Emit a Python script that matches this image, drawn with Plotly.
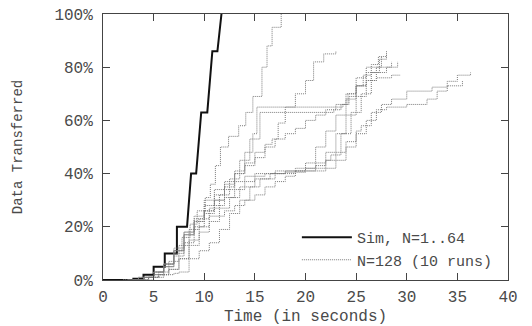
import plotly.graph_objects as go

# Simulation (black)
sim_t = [0.0, 1.0, 3.0, 3.0, 4.0, 4.0, 5.0, 5.0, 6.1, 6.1, 7.3, 7.3, 8.3, 8.7, 9.2, 9.7, 10.3, 10.8, 11.3, 11.7]
sim_v = [0.0, 0.0, 0.0, 0.5, 0.5, 2.0, 2.0, 5.0, 5.0, 10.0, 10.0, 20.0, 20.0, 40.0, 40.0, 63.0, 63.0, 86.0, 86.0, 100.0]

# N=128, ten measured runs (gray)
run1_t = [2.5, 4, 5, 6, 7, 7.8, 8.6, 9.3, 10.1, 10.6, 11.1, 11.6, 12.4, 13.4, 14.1, 14.8, 15.7, 16.2, 16.7, 17.6]
run1_v = [0, 1, 3, 6, 11, 16, 21, 26, 31, 36, 43, 50, 54, 58, 63, 69, 80, 88, 95, 100]
run2_t = [2, 3.5, 5, 6, 7, 8, 9, 10, 11, 12, 13, 14, 15, 16, 16.7, 17.3, 18, 19, 20, 20.8, 21.8, 23]
run2_v = [0, 1, 2, 5, 10, 17, 23, 28, 32, 36, 40, 44, 48, 51, 53, 59, 65, 70, 75, 82, 85, 86]
run3_t = [2.5, 4, 5, 6, 7, 8, 9, 10, 11, 12, 13, 14, 14.8, 15.2, 23.7, 24.3, 25, 25.7, 26.5, 27.2, 28]
run3_v = [0, 1, 3, 6, 12, 18, 22, 26, 30, 35, 41, 48, 55, 65, 66, 69, 73, 77, 81, 84, 86]
run4_t = [3, 4.5, 5.5, 6.5, 7.5, 8.5, 9.5, 10.5, 11.5, 12.5, 13.5, 14.5, 15.5, 22.8, 23.5, 24.2, 25, 26, 27, 28.5, 29.4]
run4_v = [0, 1, 3, 7, 13, 19, 23, 27, 32, 38, 45, 53, 63, 64, 66, 70, 73, 75, 76, 77, 77]
run5_t = [3, 4.5, 5.5, 6.5, 7.5, 8.5, 9.5, 10.5, 11.5, 12.5, 13.5, 15, 17, 19, 21, 22, 23, 24, 25, 25.5, 26.5, 27.5, 28.5, 30, 32.5, 34, 35, 36.3]
run5_v = [0, 1, 2, 4, 8, 13, 18, 22, 27, 31, 35, 38, 40, 41, 42, 45, 48, 52, 56, 58, 63, 66, 68, 71, 72.5, 74.7, 77, 78]
run6_t = [2.5, 4, 5, 6, 7, 8, 9, 10, 11, 12, 13, 14, 16, 18, 20, 22, 23, 24, 25, 26, 27, 28, 30, 32, 33, 34, 35.5]
run6_v = [0, 1, 3, 6, 11, 17, 22, 26, 30, 34, 37, 39, 40, 40.5, 41, 42, 45, 50, 55, 60, 64, 65, 66, 68, 71, 73, 75]
run7_t = [3, 5, 6, 7, 7.5, 8.5, 9.5, 10.5, 11.5, 12.5, 13.5, 14.5, 15.5, 16.5, 18, 20, 21, 22, 23, 24, 25, 26, 27, 28, 29.1]
run7_v = [0, 1, 2, 2.5, 3, 8, 11, 14, 19, 25, 30, 35, 38, 40, 41, 42, 44, 48, 55, 62, 69, 75, 78, 80, 82]
run8_t = [2.5, 4, 5, 6, 7, 8, 9, 10, 11, 12, 13, 14, 15, 17, 19, 21, 22, 22.5, 23.5, 24.5, 25.5, 26.5, 27.3, 28]
run8_v = [0, 1, 2, 5, 9, 14, 20, 25, 28, 31, 34, 37, 40, 41, 42, 43, 45, 47, 55, 63, 70, 78, 83, 85]
run9_t = [3, 4.5, 5.5, 6.5, 7.5, 8.5, 9.5, 10.5, 12, 13, 14, 15, 16, 17, 18, 19, 20, 21, 22, 23, 24, 25, 26, 27, 28.5]
run9_v = [0, 1, 2, 4, 8, 15, 20, 24, 26, 28, 30, 32, 35, 37, 39, 41, 44, 50, 56, 62, 68, 73, 78, 80, 82]
run10_t = [2, 3.5, 5, 6, 7, 8, 9, 10, 11, 12, 13, 14, 15, 16, 17, 18, 19, 20, 21, 22, 23, 24, 25, 26, 27.5]
run10_v = [0, 1, 3, 6, 11, 18, 24, 30, 34, 37, 40, 43, 46, 50, 53, 55, 57, 60, 62, 64, 66, 70, 76, 80, 84]

runs = [(run1_t, run1_v), (run2_t, run2_v), (run3_t, run3_v), (run4_t, run4_v), (run5_t, run5_v),
        (run6_t, run6_v), (run7_t, run7_v), (run8_t, run8_v), (run9_t, run9_v), (run10_t, run10_v)]

x_ticks = [0, 5, 10, 15, 20, 25, 30, 35, 40]
y_ticks = [0, 20, 40, 60, 80, 100]
y_labels = ["0%", "20%", "40%", "60%", "80%", "100%"]

FONT = "Liberation Mono"
TXT = "#4a4a4a"

fig = go.Figure()
fig.add_trace(go.Scatter(x=sim_t, y=sim_v, mode="lines", name="Sim, N=1..64",
                         line=dict(color="#111111", width=2)))
for i, (t, v) in enumerate(runs):
    fig.add_trace(go.Scatter(x=t, y=v, mode="lines", name="N=128 (10 runs)",
                             showlegend=(i == 0), line_shape="hv",
                             line=dict(color="#7a7a7a", width=1, dash="1px,1px")))

axis_common = dict(showline=True, linecolor="#444444", linewidth=1, mirror="ticks",
                   ticks="inside", ticklen=7, tickcolor="#444444", showgrid=False,
                   zeroline=False, automargin=False,
                   tickfont=dict(family=FONT, size=16, color=TXT))

fig.update_layout(
    width=532, height=326,
    margin=dict(l=103, r=24, t=14, b=46),
    paper_bgcolor="white", plot_bgcolor="white",
    xaxis=dict(range=[0, 40], tickvals=x_ticks, ticklabelstandoff=2,
               title=dict(text="Time (in seconds)", font=dict(family=FONT, size=16, color=TXT), standoff=4),
               **axis_common),
    yaxis=dict(range=[0, 100], tickvals=y_ticks, ticktext=y_labels, ticklabelstandoff=6,
               title=dict(text="Data Transferred", font=dict(family=FONT, size=14, color=TXT), standoff=28),
               **axis_common),
    legend=dict(x=0.975, xanchor="right", y=0.015, yanchor="bottom", bgcolor="rgba(0,0,0,0)",
                font=dict(family=FONT, size=15, color=TXT), tracegroupgap=0, itemwidth=50),
    showlegend=True,
)

fig.write_html("out.html")
